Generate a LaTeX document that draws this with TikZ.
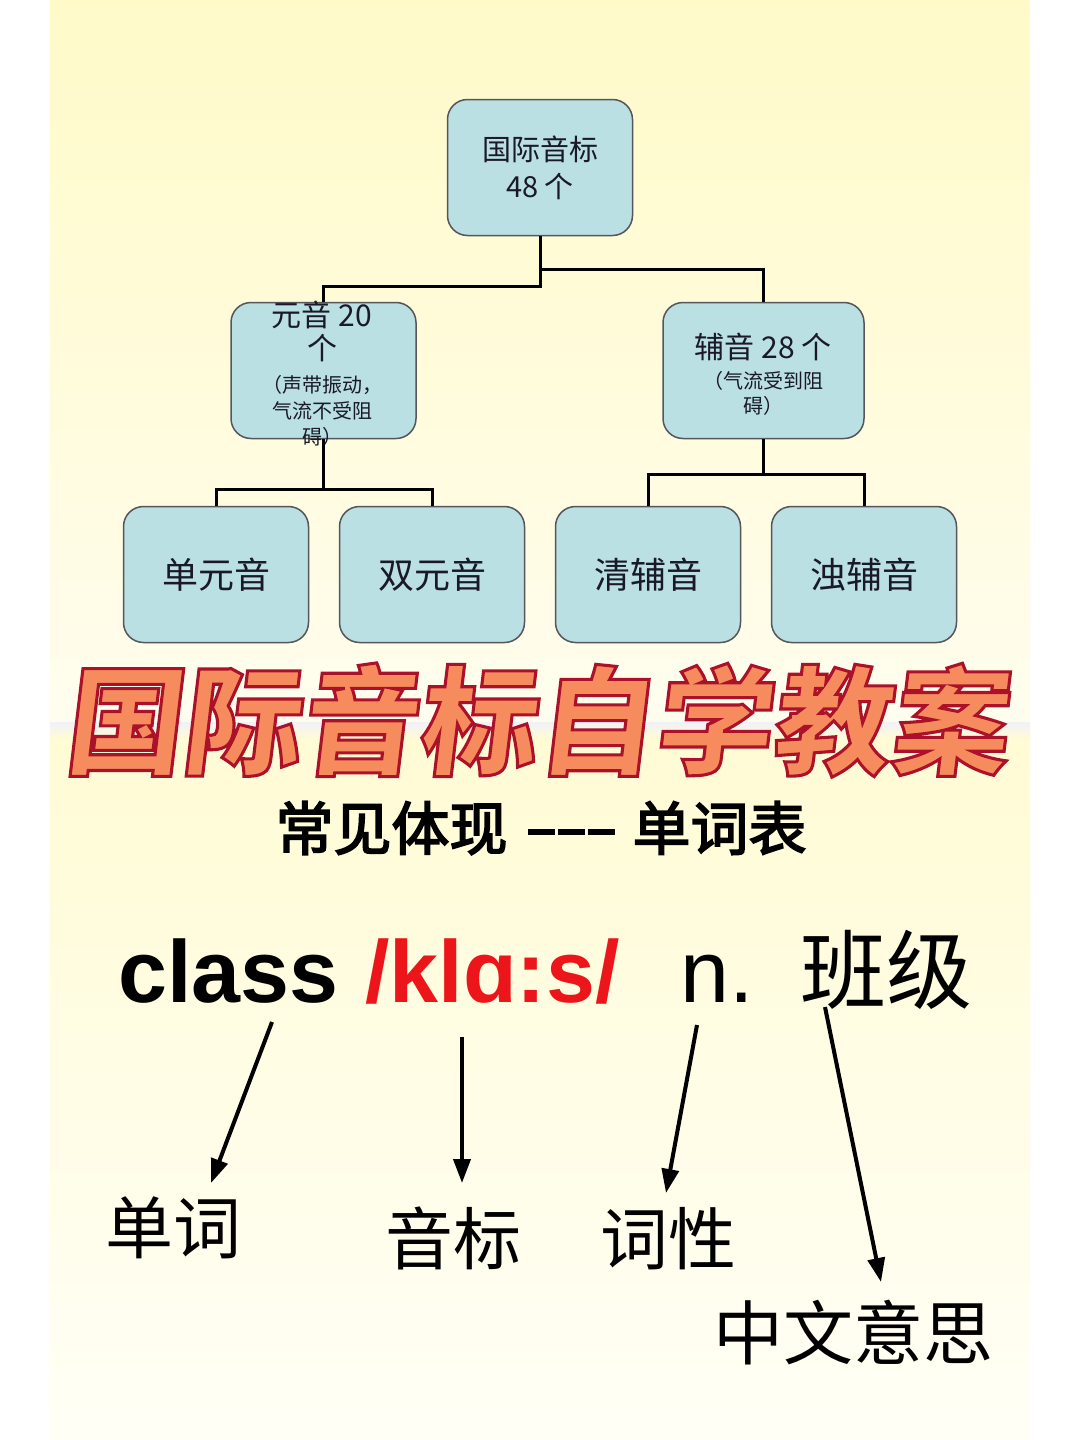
\documentclass[tikz,border=0pt]{standalone}
\usepackage{fontspec}
\setmainfont{Liberation Sans}
\newfontfamily\cjk{Noto Sans CJK SC}
\newfontfamily\cjkbold{Noto Sans CJK SC}[FakeBold=3]
\newfontfamily\ttledge{Noto Sans CJK SC}[FakeBold=2.6,FakeSlant=0.12]
\usetikzlibrary{arrows.meta}
\definecolor{bgA}{RGB}{255,250,200}
\definecolor{bgB}{RGB}{255,253,238}
\definecolor{bgC}{RGB}{255,251,212}
\definecolor{bgD}{RGB}{255,255,246}
\definecolor{bandc}{RGB}{241,241,248}
\definecolor{boxfill}{RGB}{186,224,228}
\definecolor{boxline}{RGB}{85,85,90}
\definecolor{boxtext}{RGB}{25,25,40}
\definecolor{ipared}{RGB}{236,22,26}
\tikzset{
  box/.style={draw=boxline, line width=1.5pt, fill=boxfill, rounded corners=20pt,
    minimum width=185pt, minimum height=136pt, inner sep=0pt, align=center,
    text=boxtext},
  conn/.style={line width=3pt, black},
  arr/.style={line width=4pt, black, -{Triangle[length=24pt,width=17pt]}},
  lbl/.style={inner sep=0pt, text=black, font=\cjk\fontsize{68}{68}\selectfont}
}
% orange fill with a dark red stroke (fill colour, stroke colour)
\newcommand\ttltext[1]{\special{pdf:bcolor [0.965 0.55 0.37] [0.67 0.07 0.16]}#1\special{pdf:ecolor}}
\newcommand\subdash{\rule[15pt]{27pt}{6pt}\hspace{3pt}\rule[15pt]{27pt}{6pt}\hspace{3pt}\rule[15pt]{27pt}{6pt}}
\begin{document}
\begin{tikzpicture}[x=1pt,y=-1pt]
\useasboundingbox (0,0) rectangle (1080,1440);
\fill[white] (0,0) rectangle (1080,1440);
\shade[top color=bgA, bottom color=bgB] (50,0) rectangle (1030,725);
\shade[top color=bgC, bottom color=bgD] (50,725) rectangle (1030,1440);
\shade[top color=bandc, bottom color=bgC] (50,722) rectangle (1030,738);

% tree boxes
\node[box, font=\cjk\fontsize{29}{37}\selectfont] (root) at (540,167.5) {国际音标\\48 个};
\node[box] (vowel) at (323.5,370.5) {};
\node[box, minimum width=201pt] (cons) at (763.5,370.5) {};
\node[inner sep=0pt, align=center, text=boxtext, font=\cjk\fontsize{30}{33}\selectfont]
  (vowelA) at (322,331) {元音 20\\个};
\node[inner sep=0pt, align=center, text=boxtext, font=\cjk\fontsize{20}{26}\selectfont]
  (vowelB) at (322,411) {（声带振动，\\气流不受阻\\碍）};
\node[inner sep=0pt, align=center, text=boxtext, font=\cjk\fontsize{30}{33}\selectfont]
  (consA) at (763,347) {辅音 28 个};
\node[inner sep=0pt, align=center, text=boxtext, font=\cjk\fontsize{20}{25}\selectfont]
  (consB) at (763,393) {（气流受到阻\\碍）};
\node[box, font=\cjk\fontsize{36}{40}\selectfont] (b1) at (216,574.5) {单元音};
\node[box, font=\cjk\fontsize{36}{40}\selectfont] (b2) at (432,574.5) {双元音};
\node[box, font=\cjk\fontsize{36}{40}\selectfont] (b3) at (648,574.5) {清辅音};
\node[box, font=\cjk\fontsize{36}{40}\selectfont] (b4) at (864,574.5) {浊辅音};

\draw[conn] (root.south) -- ++(0,50) -| (vowel.north);
\draw[conn] (root.south) ++(0,33) -| (cons.north);
\draw[conn] (vowel.south) -- ++(0,50) -| (b1.north);
\draw[conn] (vowel.south) ++(0,50) -| (b2.north);
\draw[conn] (cons.south) -- ++(0,35) -| (b3.north);
\draw[conn] (cons.south) ++(0,35) -| (b4.north);

% title
\node[inner sep=0pt, font=\ttledge\bfseries\fontsize{118}{118}\selectfont] (title) at (535,720) {\ttltext{国际音标自学教案}};

% subtitle
\node[inner sep=0pt, text=black, font=\cjkbold\fontsize{58}{58}\selectfont] (sub) at (541,828)
  {常见体现\hspace{20pt}\subdash\hspace{18pt}单词表};

% example line
\node[inner sep=0pt, anchor=base west, font=\bfseries\fontsize{88}{88}\selectfont] (word) at (118,1002) {class};
\node[inner sep=0pt, anchor=base west, text=ipared, font=\bfseries\fontsize{88}{88}\selectfont] (ipa) at (365,1002) {/klɑ:s/};
\node[inner sep=0pt, anchor=base west, font=\fontsize{88}{88}\selectfont] (pos) at (680,1002) {n.};
\node[inner sep=0pt, anchor=base west, font=\cjk\fontsize{86}{86}\selectfont] (mean) at (800,1002) {班级};

% labels
\node[lbl] (l1) at (173,1228) {单词};
\node[lbl] (l2) at (453,1238) {音标};
\node[lbl] (l3) at (668,1239) {词性};
\node[lbl, font=\cjk\fontsize{70}{70}\selectfont] (l4) at (853,1333) {中文意思};

% arrows
\coordinate (a1s) at (272,1022); \coordinate (a1e) at (211,1183);
\coordinate (a2s) at (462,1037); \coordinate (a2e) at (462,1183);
\coordinate (a3s) at (697,1025); \coordinate (a3e) at (666,1193);
\coordinate (a4s) at (825,1007); \coordinate (a4e) at (881,1282);
\draw[arr] (a1s) -- (a1e);
\draw[arr] (a2s) -- (a2e);
\draw[arr] (a3s) -- (a3e);
\draw[arr] (a4s) -- (a4e);
\end{tikzpicture}
\end{document}
